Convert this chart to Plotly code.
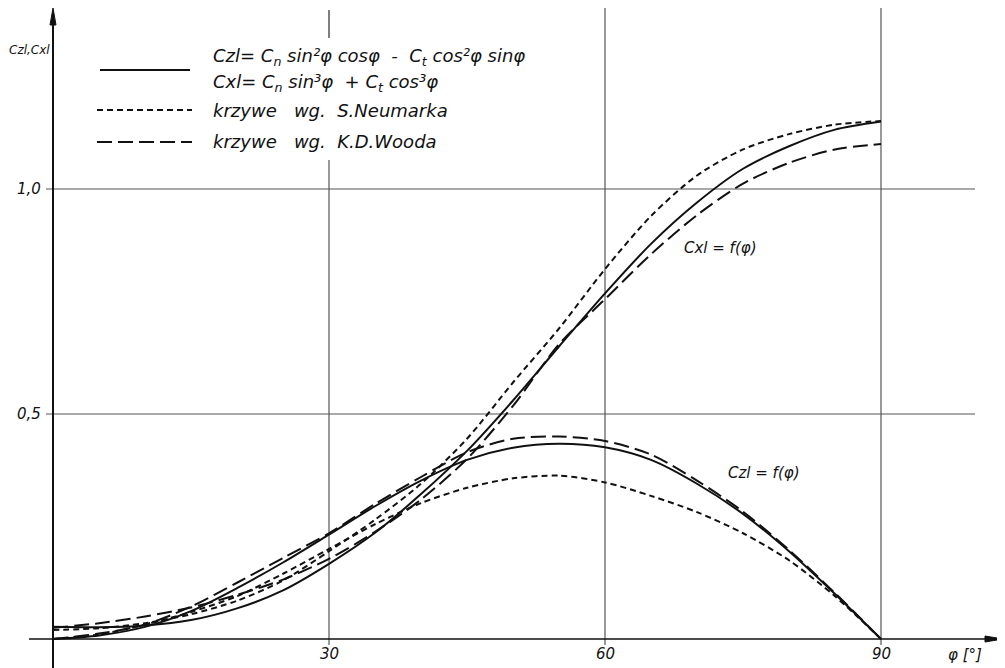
import plotly.graph_objects as go

# ---------------- data ----------------
phi = [0, 5, 10, 15, 20, 25, 30, 35, 40, 45, 50, 55, 60, 65, 70, 75, 80, 85, 90]

# solid: formulas curves
czl_formula = [0.0, 0.008, 0.027, 0.062, 0.113, 0.170, 0.232, 0.295, 0.352, 0.398,
               0.425, 0.434, 0.426, 0.398, 0.345, 0.278, 0.195, 0.100, 0.0]
cxl_formula = [0.027, 0.026, 0.030, 0.042, 0.068, 0.108, 0.167, 0.236, 0.322, 0.418,
               0.530, 0.650, 0.768, 0.878, 0.970, 1.045, 1.095, 1.132, 1.150]

# short dash: S. Neumark
czl_neumark = [0.0, 0.010, 0.032, 0.060, 0.095, 0.145, 0.200, 0.255, 0.302, 0.336,
               0.357, 0.363, 0.348, 0.318, 0.282, 0.235, 0.175, 0.095, 0.0]
cxl_neumark = [0.020, 0.024, 0.035, 0.055, 0.085, 0.130, 0.195, 0.265, 0.345, 0.445,
               0.570, 0.690, 0.822, 0.940, 1.030, 1.088, 1.122, 1.143, 1.151]

# long dash: K.D. Wood
czl_wood = [0.0, 0.012, 0.032, 0.072, 0.125, 0.180, 0.235, 0.300, 0.360, 0.415,
            0.445, 0.450, 0.440, 0.410, 0.352, 0.283, 0.198, 0.102, 0.0]
cxl_wood = [0.025, 0.035, 0.050, 0.070, 0.098, 0.132, 0.178, 0.238, 0.310, 0.400,
            0.518, 0.655, 0.755, 0.855, 0.942, 1.012, 1.058, 1.088, 1.100]

x_ticks = [30, 60, 90]
x_tick_labels = ["30", "60", "90"]
y_ticks = [0.5, 1.0]
y_tick_labels = ["0,5", "1,0"]

legend_texts = [
    "Czl= C<sub>n</sub> sin²φ cosφ  -  C<sub>t</sub> cos²φ sinφ",
    "Cxl= C<sub>n</sub> sin³φ  + C<sub>t</sub> cos³φ",
    "krzywe   wg.  S.Neumarka",
    "krzywe   wg.  K.D.Wooda",
]

# ---------------- geometry helpers (page pixel -> data) ----------------
PAGE_W, PAGE_H = 1005, 668
BODY = 8                       # default body margin of the html page
W, H = PAGE_W - BODY, PAGE_H - BODY
X0PX, PXDEG = 53.0, 9.2        # phi = 0 at page px 53, 9.2 px per degree
Y0PX, PXUNIT = 639.0, 450.0    # value 0 at page px 639, 450 px per unit


def dx(px):
    return (px - X0PX) / PXDEG


def dy(py):
    return (Y0PX - py) / PXUNIT


INK = "#111111"
GRID = "#555555"
FONT = "DejaVu Sans"

SHORT = "6px,4px"
LONG = "15px,6px"

fig = go.Figure()

series = [
    (czl_formula, "solid"), (cxl_formula, "solid"),
    (czl_neumark, SHORT), (cxl_neumark, SHORT),
    (czl_wood, LONG), (cxl_wood, LONG),
]
for vals, dash in series:
    fig.add_trace(go.Scatter(
        x=phi, y=vals, mode="lines",
        line=dict(color=INK, width=2, dash=dash, shape="spline", smoothing=0.8),
        showlegend=False, hoverinfo="skip"))

shapes = []
# grid lines
for yv in y_ticks:
    shapes.append(dict(type="line", x0=dx(46), x1=dx(975), y0=yv, y1=yv,
                       line=dict(color=GRID, width=1.2), layer="below"))
for xv in x_ticks:
    if xv == 30:
        shapes.append(dict(type="line", x0=xv, x1=xv, y0=dy(10), y1=dy(38),
                           line=dict(color=GRID, width=1.5), layer="below"))
        shapes.append(dict(type="line", x0=xv, x1=xv, y0=dy(160), y1=dy(645),
                           line=dict(color=GRID, width=1.2), layer="below"))
    else:
        shapes.append(dict(type="line", x0=xv, x1=xv, y0=dy(0), y1=dy(645),
                           line=dict(color=GRID, width=1.2), layer="below"))
# axes
shapes.append(dict(type="line", x0=dx(29), x1=dx(990), y0=0, y1=0, line=dict(color=INK, width=1.6)))
shapes.append(dict(type="line", x0=0, x1=0, y0=dy(668), y1=dy(18), line=dict(color=INK, width=2)))
# arrow heads
shapes.append(dict(type="path",
                   path=f"M {dx(1003)} 0 L {dx(985)} {dy(636)} L {dx(985)} {dy(642)} Z",
                   fillcolor=INK, line=dict(color=INK, width=1)))
shapes.append(dict(type="path",
                   path=f"M 0 {dy(8)} L {dx(50)} {dy(25)} L {dx(56)} {dy(25)} Z",
                   fillcolor=INK, line=dict(color=INK, width=1)))
# legend samples
shapes.append(dict(type="line", x0=dx(100), x1=dx(190), y0=dy(70), y1=dy(70),
                   line=dict(color=INK, width=2)))
shapes.append(dict(type="line", x0=dx(97), x1=dx(192), y0=dy(110), y1=dy(110),
                   line=dict(color=INK, width=2, dash=SHORT)))
shapes.append(dict(type="line", x0=dx(97), x1=dx(192), y0=dy(142), y1=dy(142),
                   line=dict(color=INK, width=2, dash=LONG)))

annotations = []
tf = dict(family=FONT, size=15, color=INK, style="italic")
for xv, lab in zip(x_ticks, x_tick_labels):
    annotations.append(dict(x=xv, y=dy(654), text=lab, showarrow=False, font=tf,
                            xanchor="center", yanchor="middle"))
for yv, lab in zip(y_ticks, y_tick_labels):
    annotations.append(dict(x=dx(29), y=yv, text=lab, showarrow=False, font=tf,
                            xanchor="center", yanchor="middle"))
annotations.append(dict(x=dx(965), y=dy(655), text="φ [°]", showarrow=False, font=tf,
                        xanchor="center", yanchor="middle"))
annotations.append(dict(x=dx(29), y=dy(50), text="Czl,Cxl", showarrow=False,
                        font=dict(family=FONT, size=12, color=INK, style="italic"),
                        xanchor="center", yanchor="middle"))
for txt, ypx in zip(legend_texts, [57, 83, 110, 141]):
    annotations.append(dict(x=dx(211), y=dy(ypx), text=txt, showarrow=False,
                            font=dict(family=FONT, size=18, color=INK, style="italic"),
                            xanchor="left", yanchor="middle"))
annotations.append(dict(x=dx(720), y=dy(248), text="Cxl = f(φ)", showarrow=False,
                        font=dict(family=FONT, size=15, color=INK, style="italic"),
                        xanchor="center", yanchor="middle"))
annotations.append(dict(x=dx(764), y=dy(473), text="Czl = f(φ)", showarrow=False,
                        font=dict(family=FONT, size=15, color=INK, style="italic"),
                        xanchor="center", yanchor="middle"))

fig.update_layout(
    width=W, height=H,
    margin=dict(l=0, r=0, t=0, b=0),
    paper_bgcolor="white", plot_bgcolor="white",
    xaxis=dict(range=[dx(BODY), dx(PAGE_W)], visible=False, fixedrange=True),
    yaxis=dict(range=[dy(PAGE_H), dy(BODY)], visible=False, fixedrange=True),
    shapes=shapes, annotations=annotations,
)

fig.write_html("out.html")
